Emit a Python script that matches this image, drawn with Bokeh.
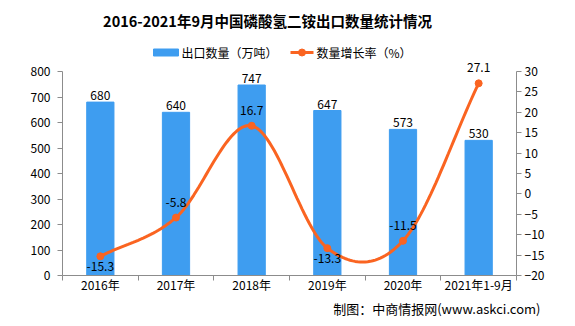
from bokeh.plotting import figure
from bokeh.models import Range1d, LinearAxis, FixedTicker, Label, ColumnDataSource, Title
from bokeh.core.properties import value
from bokeh.embed import file_html
from bokeh.resources import INLINE

categories = ["2016年", "2017年", "2018年", "2019年", "2020年", "2021年1-9月"]
export_qty = [680, 640, 747, 647, 573, 530]
growth = [-15.3, -5.8, 16.7, -13.3, -11.5, 27.1]
growth_label_pos = ["below", "above", "above", "below", "above", "above"]
left_ticks = list(range(0, 801, 100))
right_ticks = list(range(-20, 31, 5))

TITLE = "2016-2021年9月中国磷酸氢二铵出口数量统计情况"
SERIES1 = "出口数量（万吨）"
SERIES2 = "数量增长率（%）"
SOURCE = "制图：中商情报网(www.askci.com)"

BAR_C = "#3E9DF0"
LINE_C = "#FA6421"
AX_C = "#8C8C8C"
FONT = "Noto Sans CJK SC"

W, H = 575, 326
FL, FR = 62, 516          # frame left / right (px)
PT, PB = 71, 275          # plotting area top / bottom (px); frame itself starts at canvas top

L0, L1 = left_ticks[0], left_ticks[-1]
R0, R1 = right_ticks[0], right_ticks[-1]
l_end = L1 + PT * (L1 - L0) / (PB - PT)
r_end = R1 + PT * (R1 - R0) / (PB - PT)

p = figure(width=W, height=H, output_backend="svg", toolbar_location=None,
           x_range=Range1d(0, len(categories)), y_range=Range1d(L0, l_end),
           min_border_left=FL, min_border_right=W - FR, min_border_top=0,
           min_border_bottom=H - PB)
p.extra_y_ranges = {"r": Range1d(R0, r_end), "py": Range1d(PB, 0)}
p.extra_x_ranges = {"px": Range1d(FL, FR)}
p.xgrid.visible = False
p.ygrid.visible = False
p.outline_line_color = None
p.background_fill_color = "white"
p.border_fill_color = "white"

xs = [i + 0.5 for i in range(len(categories))]

src = ColumnDataSource(dict(x=xs, top=export_qty, lab=[str(v) for v in export_qty]))
p.vbar(x="x", top="top", width=0.36, bottom=0, source=src, color=BAR_C)
p.text(x="x", y="top", text="lab", source=src, text_align="center", text_baseline="bottom",
       y_offset=-2, text_font=value(FONT), text_font_size="12px", text_color="black")

# Smooth (Catmull-Rom) curve through the growth points
def catmull(xp, yp, n=30):
    ox, oy = [], []
    m = len(xp)
    for i in range(m - 1):
        x0, x1 = xp[i], xp[i + 1]
        y0, y1 = yp[i], yp[i + 1]
        ym = yp[i - 1] if i > 0 else y0
        yn = yp[i + 2] if i + 2 < m else y1
        t0 = (y1 - ym) / (2.0 if i > 0 else 1.0)
        t1 = (yn - y0) / (2.0 if i + 2 < m else 1.0)
        for k in range(n):
            t = k / n
            h00 = 2*t**3 - 3*t**2 + 1
            h10 = t**3 - 2*t**2 + t
            h01 = -2*t**3 + 3*t**2
            h11 = t**3 - t**2
            ox.append(x0 + (x1 - x0) * t)
            oy.append(h00*y0 + h10*t0 + h01*y1 + h11*t1)
    ox.append(xp[-1]); oy.append(yp[-1])
    return ox, oy

cx, cy = catmull(xs, growth)
p.line(cx, cy, y_range_name="r", line_color=LINE_C, line_width=3)
p.scatter(xs, growth, y_range_name="r", size=7, color=LINE_C)

for x, v, pos in zip(xs, growth, growth_label_pos):
    p.add_layout(Label(x=x, y=v, y_range_name="r", text=f"{v}", text_align="center",
                       text_baseline="bottom" if pos == "above" else "top",
                       y_offset=11 if pos == "above" else -6,
                       text_font=FONT, text_font_size="12px", text_color="black"))

# ---------- title + legend (drawn in pixel coordinates) ----------
p.text(x=[267], y=[20], text=[TITLE], x_range_name="px", y_range_name="py",
       text_align="center", text_baseline="middle", text_font=value(FONT),
       text_font_size="14.5px", text_font_style="bold", text_color="black")
p.rect(x=[165.5], y=[52], width=25, height=7, x_range_name="px", y_range_name="py",
       color=BAR_C)
p.text(x=[181], y=[52], text=[SERIES1], x_range_name="px", y_range_name="py",
       text_align="left", text_baseline="middle", text_font=value(FONT),
       text_font_size="12px", text_color="black")
p.line(x=[290, 313], y=[52, 52], x_range_name="px", y_range_name="py",
       line_color=LINE_C, line_width=3)
p.scatter(x=[301.5], y=[52], x_range_name="px", y_range_name="py", size=7, color=LINE_C)
p.text(x=[316], y=[52], text=[SERIES2], x_range_name="px", y_range_name="py",
       text_align="left", text_baseline="middle", text_font=value(FONT),
       text_font_size="12px", text_color="black")

# ---------- axes ----------
p.yaxis[0].ticker = FixedTicker(ticks=left_ticks)
p.yaxis[0].bounds = (L0, L1)
r_ax = LinearAxis(y_range_name="r", ticker=FixedTicker(ticks=right_ticks), bounds=(R0, R1))
p.add_layout(r_ax, "right")
p.xaxis.ticker = FixedTicker(ticks=xs, minor_ticks=list(range(len(categories) + 1)))
p.xaxis.major_label_overrides = {x: c for x, c in zip(xs, categories)}
p.xaxis.major_tick_line_color = None
p.xaxis.major_tick_in = 0
p.xaxis.major_tick_out = 0
p.xaxis.minor_tick_in = 0
p.xaxis.minor_tick_out = 5
p.xaxis.minor_tick_line_color = AX_C
p.xaxis.major_label_standoff = -5

for ax in [p.xaxis[0], p.yaxis[0], r_ax]:
    ax.axis_line_color = AX_C
    ax.major_label_text_font = FONT
    ax.major_label_text_font_size = "12px"
    ax.major_label_text_color = "black"
for ax in [p.yaxis[0], r_ax]:
    ax.major_tick_line_color = AX_C
    ax.major_tick_in = 0
    ax.major_tick_out = 5
    ax.minor_tick_line_color = None
p.yaxis[0].major_label_standoff = 7
r_ax.major_label_standoff = 3

# source note
p.add_layout(Title(text=SOURCE, align="right", text_font=FONT, text_font_size="13px",
                   text_font_style="normal", text_color="black", standoff=2,
                   offset=-24), "below")

open("out.html", "w").write(file_html(p, INLINE))
